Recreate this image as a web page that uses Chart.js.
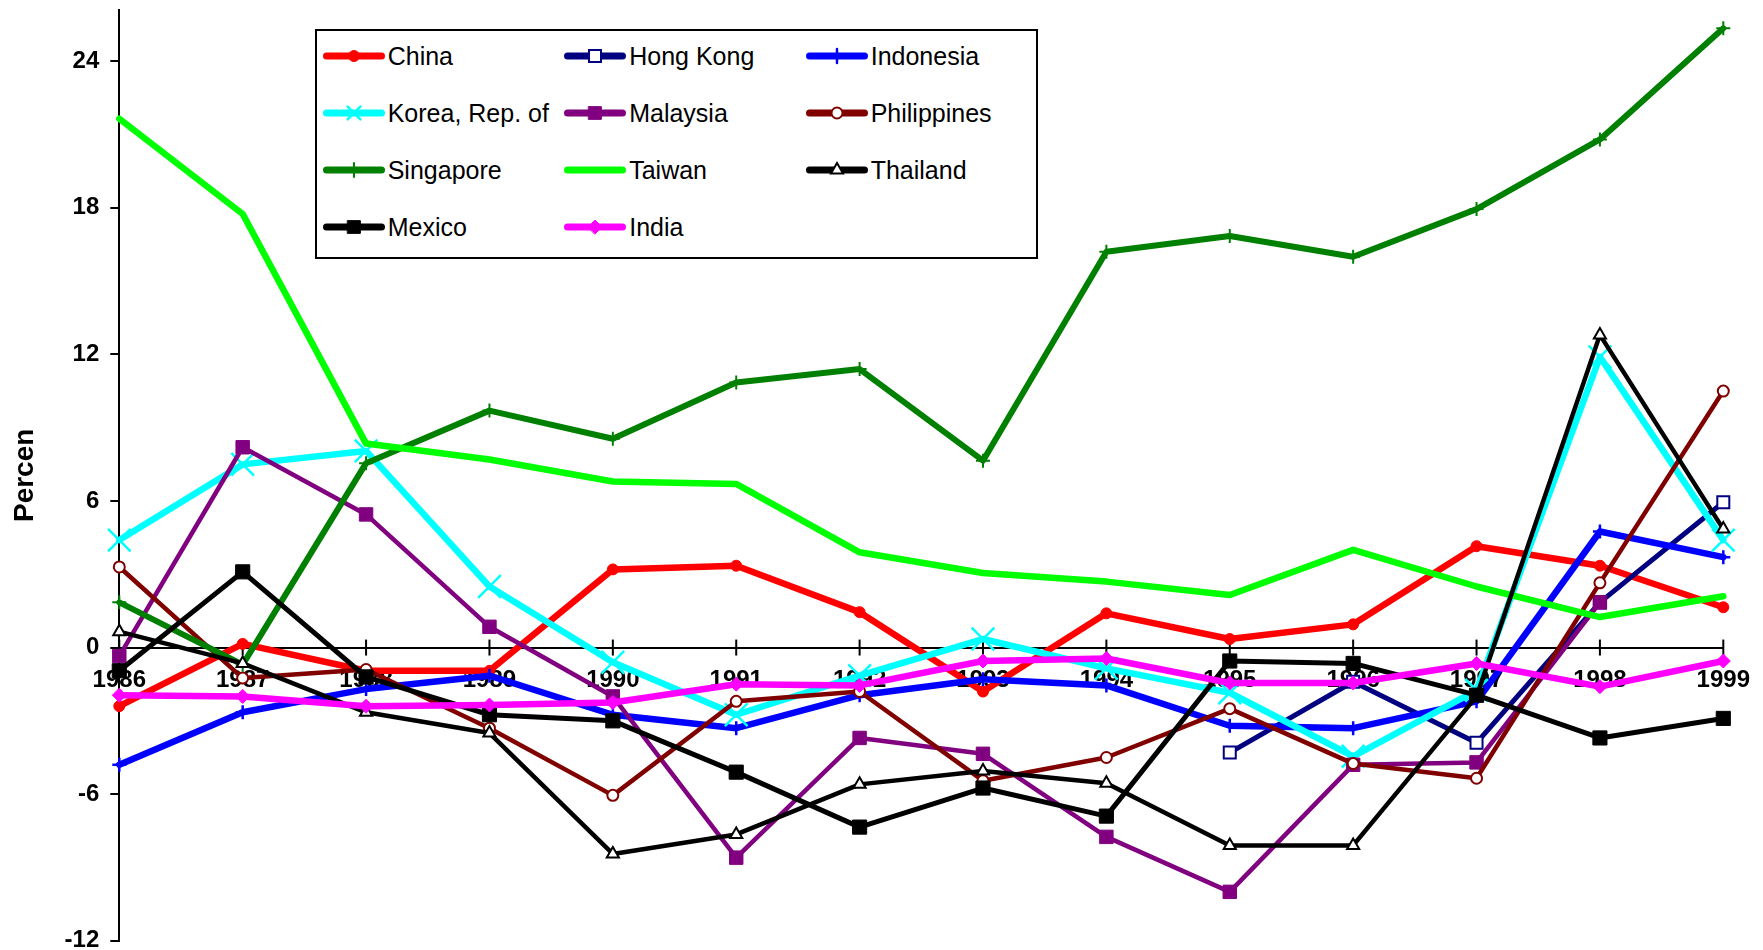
<!DOCTYPE html>
<html lang="en">
<head>
<meta charset="UTF-8">
<title>Percen by country, 1986-1999</title>
<style>
    body {
        margin: 0;
        background: #fff;
        font-family: "Liberation Sans", Arial, sans-serif;
    }
    .wrap {
        position: relative;
        width: 1763px;
        height: 950px;
    }
    #legend {
        position: absolute;
        left: 315px;
        top: 29px;
        width: 719px;
        height: 226px;
        border: 2px solid #000;
        background: #fff;
    }
    .item {
        position: absolute;
        height: 30px;
        display: flex;
        align-items: center;
        font-size: 25px;
        color: #000;
        white-space: nowrap;
    }
    .item canvas {
        margin-right: 3px;
    }
</style>
</head>
<body>
<div class="wrap">
    <canvas id="chart"></canvas>
    <div id="legend"></div>
</div>

<script src="https://cdn.jsdelivr.net/npm/chart.js"></script>
<script>
    // values
    const years = ['1986', '1987', '1988', '1989', '1990', '1991', '1992',
                   '1993', '1994', '1995', '1996', '1997', '1998', '1999'];
    const tickValues = [-12, -6, 0, 6, 12, 18, 24];

    const china       = [-2.4, 0.15, -0.95, -0.95, 3.2, 3.35, 1.45, -1.8, 1.4, 0.35, 0.95, 4.15, 3.35, 1.65];
    const hongKong    = [null, null, null, null, null, null, null, null, null, -4.3, -1.4, -3.9, 1.85, 5.95];
    const indonesia   = [-4.8, -2.65, -1.7, -1.15, -2.75, -3.3, -1.95, -1.3, -1.55, -3.2, -3.3, -2.2, 4.75, 3.7];
    const korea       = [4.4, 7.5, 8.05, 2.5, -0.6, -2.75, -1.15, 0.35, -0.85, -1.85, -4.45, -1.75, 11.9, 4.4];
    const malaysia    = [-0.35, 8.2, 5.45, 0.85, -2.0, -8.6, -3.7, -4.35, -7.75, -10.0, -4.8, -4.7, 1.85, null];
    const philippines = [3.3, -1.25, -0.9, -3.3, -6.05, -2.2, -1.8, -5.45, -4.5, -2.5, -4.75, -5.35, 2.65, 10.5];
    const singapore   = [1.85, -0.7, 7.55, 9.7, 8.55, 10.85, 11.4, 7.65, 16.2, 16.85, 16.0, 17.95, 20.8, 25.35];
    const taiwan      = [21.65, 17.75, 8.35, 7.7, 6.8, 6.7, 3.9, 3.05, 2.7, 2.15, 4.0, 2.5, 1.25, 2.1];
    const thailand    = [0.65, -0.65, -2.65, -3.5, -8.45, -7.65, -5.6, -5.05, -5.55, -8.1, -8.1, -2.0, 12.8, 4.85];
    const mexico      = [-0.95, 3.1, -1.2, -2.75, -3.0, -5.1, -7.35, -5.75, -6.9, -0.55, -0.65, -1.95, -3.7, -2.9];
    const india       = [-1.95, -2.0, -2.4, -2.35, -2.25, -1.5, -1.55, -0.55, -0.45, -1.45, -1.45, -0.65, -1.6, -0.55];

    const FONT = '"Liberation Sans", Arial, sans-serif';

    // look of each series (Excel style markers)
    const series = [
        { label: 'China',          data: china,       color: '#FF0000', width: 6.5, style: 'circle',   r: 5.5, fill: '#FF0000', bw: 1 },
        { label: 'Hong Kong',      data: hongKong,    color: '#000080', width: 5,   style: 'rect',     r: 8.5, fill: '#FFFFFF', bw: 2 },
        { label: 'Indonesia',      data: indonesia,   color: '#0000FF', width: 6.5, style: 'cross',    r: 7,   fill: '#0000FF', bw: 2.5 },
        { label: 'Korea, Rep. of', data: korea,       color: '#00FFFF', width: 6.5, style: 'crossRot', r: 16,  fill: '#00FFFF', bw: 2.5 },
        { label: 'Malaysia',       data: malaysia,    color: '#800080', width: 4.5, style: 'rect',     r: 9.5, fill: '#800080', bw: 1 },
        { label: 'Philippines',    data: philippines, color: '#800000', width: 4.5, style: 'circle',   r: 5.5, fill: '#FFFFFF', bw: 2 },
        { label: 'Singapore',      data: singapore,   color: '#008000', width: 6,   style: 'cross',    r: 7,   fill: '#008000', bw: 2 },
        { label: 'Taiwan',         data: taiwan,      color: '#00FF00', width: 6.5, style: 'circle',   r: 0,   fill: '#00FF00', bw: 0 },
        { label: 'Thailand',       data: thailand,    color: '#000000', width: 4.5, style: 'triangle', r: 7,   fill: '#FFFFFF', bw: 2 },
        { label: 'Mexico',         data: mexico,      color: '#000000', width: 5,   style: 'rect',     r: 10,  fill: '#000000', bw: 1 },
        { label: 'India',          data: india,       color: '#FF00FF', width: 6.5, style: 'rectRot',  r: 7,   fill: '#FF00FF', bw: 1 }
    ];

    // tick marks on the category axis cross the zero line
    const crossTicks = {
        id: 'crossTicks',
        beforeDatasetsDraw(chart) {
            const x = chart.scales.x;
            const y0 = chart.scales.y.getPixelForValue(0);
            const ctx = chart.ctx;
            ctx.save();
            ctx.strokeStyle = '#000';
            ctx.lineWidth = 2;
            x.ticks.forEach((t, i) => {
                const px = x.getPixelForTick(i);
                ctx.beginPath();
                ctx.moveTo(px, y0 - 8);
                ctx.lineTo(px, y0 + 8);
                ctx.stroke();
            });
            ctx.restore();
        }
    };

    const n = series.length;
    const ctx = document.getElementById('chart').getContext('2d');
    new Chart(ctx, {
        type: 'line',
        data: {
            labels: years,
            datasets: series.map((s, i) => ({
                label: s.label,
                data: s.data,
                order: n - i, // later series on top, like the original
                borderColor: s.color,
                borderWidth: s.width,
                borderJoinStyle: 'round',
                borderCapStyle: 'round',
                pointStyle: s.style,
                pointRadius: s.r,
                pointHoverRadius: s.r,
                pointBackgroundColor: s.fill,
                pointBorderColor: s.color,
                pointBorderWidth: s.bw,
                tension: 0,
                fill: false,
                clip: false
            }))
        },
        options: {
            responsive: true,
            maintainAspectRatio: false,
            animation: false,
            layout: { autoPadding: false, padding: { left: 0, right: 39.7, top: 10, bottom: 9.3 } },
            plugins: {
                legend: { display: false },
                tooltip: { enabled: false }
            },
            scales: {
                x: {
                    type: 'category',
                    position: { y: 0 },
                    offset: false,
                    afterFit: s => { s.paddingLeft = 0; s.paddingRight = 0; },
                    grid: { drawOnChartArea: false, drawTicks: false },
                    border: { color: '#000', width: 2 },
                    ticks: {
                        autoSkip: false,
                        maxRotation: 0,
                        padding: 18.5,
                        color: '#000',
                        font: { family: FONT, size: 24, weight: 'bold' }
                    }
                },
                y: {
                    min: -12,
                    max: 26.1,
                    afterBuildTicks: s => { s.ticks = tickValues.map(v => ({ value: v })); },
                    afterFit: s => { s.width = 119.3; s.paddingTop = 0; s.paddingBottom = 0; },
                    grid: { drawOnChartArea: false, color: '#000', lineWidth: 2, tickLength: 9 },
                    border: { color: '#000', width: 2 },
                    ticks: {
                        padding: 11,
                        color: '#000',
                        font: { family: FONT, size: 24, weight: 'bold' }
                    },
                    title: {
                        display: true,
                        text: 'Percen',
                        color: '#000',
                        padding: { top: 8, bottom: 0 },
                        font: { family: FONT, size: 28, weight: 'bold' }
                    }
                }
            }
        },
        plugins: [crossTicks]
    });

    // legend: 3 columns in a bordered box, swatches drawn with Chart.js point helper
    const legend = document.getElementById('legend');
    const rowTops = [25, 82, 139, 196];
    series.forEach((s, i) => {
        const col = i % 3, row = Math.floor(i / 3);
        const item = document.createElement('div');
        item.className = 'item';
        item.style.left = (5.7 + col * 241.5) + 'px';
        item.style.top = (rowTops[row] - 15) + 'px';

        const sw = document.createElement('canvas');
        sw.width = 62;
        sw.height = 30;
        const c = sw.getContext('2d');
        c.strokeStyle = s.color;
        c.lineWidth = 7;
        c.lineCap = 'round';
        c.beginPath();
        c.moveTo(3.5, 15);
        c.lineTo(58.5, 15);
        c.stroke();
        if (s.r > 0) {
            c.fillStyle = s.fill;
            c.strokeStyle = s.color;
            c.lineWidth = s.bw;
            Chart.helpers.drawPoint(c, {
                pointStyle: s.style,
                radius: Math.min(s.r, 9),
                borderWidth: s.bw,
                rotation: 0
            }, 31, 15);
        }
        item.appendChild(sw);
        item.appendChild(document.createTextNode(s.label));
        legend.appendChild(item);
    });
</script>
</body>
</html>
